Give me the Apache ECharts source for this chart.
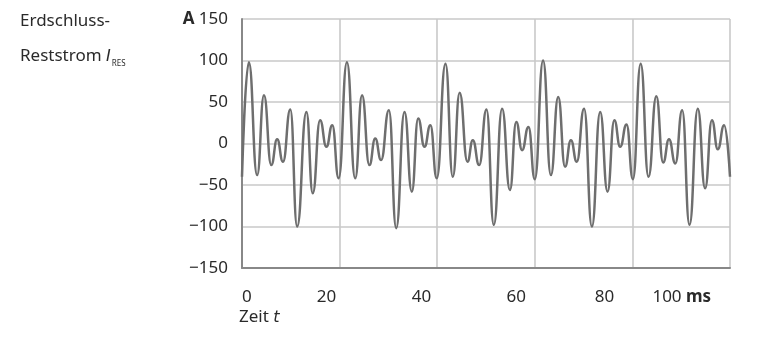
<!DOCTYPE html>
<html><head><meta charset="utf-8">
<script src="https://cdn.jsdelivr.net/npm/echarts@6/dist/echarts.min.js"></script>
<style>html,body{margin:0;padding:0;background:#fff}#c{width:757px;height:337px}</style>
</head><body><div id="c"></div>
<script>
// Zeit t in ms (extrema)
const timeMs = [
  0, 1.4, 3.1, 4.5, 6.0, 7.2, 8.4, 9.9, 11.3, 13.2, 14.5, 16.0, 17.3, 18.5,
  19.8, 21.5, 23.2, 24.6, 26.1, 27.3, 28.5, 30.1, 31.6, 33.3, 34.8, 36.1, 37.4, 38.6,
  39.9, 41.7, 43.2, 44.6, 46.2, 47.3, 48.6, 50.1, 51.6, 53.3, 54.9, 56.2, 57.4, 58.7,
  60.0, 61.7, 63.3, 64.8, 66.2, 67.4, 68.6, 70.1, 71.7, 73.4, 74.9, 76.3, 77.5, 78.8,
  80.1, 81.7, 83.3, 84.9, 86.3, 87.5, 88.8, 90.2, 91.7, 93.4, 94.9, 96.3, 97.5, 98.8, 100
];
// Erdschluss-Reststrom I_RES in A
const currentA = [
  -40, 98, -38, 58, -26, 5, -22, 41, -100, 38, -60, 28, -4, 22,
  -42, 98, -42, 58, -26, 6, -20, 40, -102, 38, -58, 30, -4, 22,
  -42, 96, -40, 61, -22, 4, -26, 41, -98, 42, -56, 26, -8, 20,
  -43, 100, -38, 56, -28, 4, -22, 42, -100, 38, -58, 28, -4, 23,
  -43, 96, -40, 57, -23, 5, -24, 40, -98, 42, -54, 28, -7, 22, -40
];
const yTickValues = [-150, -100, -50, 0, 50, 100, 150];
const yTickLabels = ['\u2212150', '\u2212100', '\u221250', '0', '50', '100', '150'];
const xTickLabels = ['0', '20', '40', '60', '80', '100'];
const yUnit = 'A';
const xUnit = 'ms';

const FONT = 'Noto Sans';
const IFONT = 'DejaVu Sans';
const TXT = '#2a2a2a';
const chart = echarts.init(document.getElementById('c'), null, {renderer: 'canvas'});
const xLabelSpots = [0, 15.3, 34.8, 54.2, 72.3, 84.1];

chart.setOption({
  animation: false,
  backgroundColor: '#fff',
  textStyle: {fontFamily: FONT},
  title: [
    {
      text: 'Erdschluss-\nReststrom {i|I}{s|RES}',
      left: 20, top: 4, padding: 0,
      textStyle: {
        fontFamily: FONT, fontSize: 17, fontWeight: 'normal', color: TXT, lineHeight: 35,
        rich: {
          i: {fontFamily: IFONT, fontSize: 16, fontStyle: 'italic', color: TXT, lineHeight: 35},
          s: {fontFamily: FONT, fontSize: 8, color: TXT, padding: [14, 0, 0, 1]}
        }
      }
    },
    {
      text: 'Zeit {i|t}',
      left: 239, top: 309, padding: 0,
      textStyle: {
        fontFamily: FONT, fontSize: 17, fontWeight: 'normal', color: TXT,
        rich: {i: {fontFamily: IFONT, fontSize: 16, fontStyle: 'italic', color: TXT}}
      }
    }
  ],
  grid: {left: 242, right: 27, top: 19, bottom: 69},
  xAxis: [
    {
      type: 'value', min: 0, max: 100, interval: 20,
      axisLine: {show: true, onZero: false, lineStyle: {color: '#888', width: 2}},
      axisTick: {show: false},
      axisLabel: {show: false},
      splitLine: {show: true, lineStyle: {color: '#c9c9c9', width: 1.6}}
    },
    {
      type: 'value', min: 0, max: 100, position: 'bottom',
      axisLine: {show: false, onZero: false}, axisTick: {show: false}, splitLine: {show: false},
      axisLabel: {
        customValues: xLabelSpots,
        align: 'left', margin: 21,
        fontFamily: FONT, fontSize: 17, color: TXT,
        formatter: function (v) {
          const i = xLabelSpots.indexOf(v);
          if (i < 0) return '';
          return i === xTickLabels.length - 1 ? xTickLabels[i] + ' {u|' + xUnit + '}' : xTickLabels[i];
        },
        rich: {u: {fontFamily: FONT, fontSize: 17, fontWeight: 'bold', color: TXT}}
      }
    }
  ],
  yAxis: {
    type: 'value', min: -150, max: 150, interval: 50,
    axisLine: {show: true, onZero: false, lineStyle: {color: '#888', width: 2}},
    axisTick: {show: false},
    splitLine: {show: true, lineStyle: {color: '#c9c9c9', width: 1.6}},
    axisLabel: {
      margin: 14, fontFamily: FONT, fontSize: 17, color: TXT,
      formatter: function (v) {
        const i = yTickValues.indexOf(v);
        const lab = i >= 0 ? yTickLabels[i] : String(v);
        return v === 150 ? '{u|' + yUnit + '} ' + lab : lab;
      },
      rich: {u: {fontFamily: FONT, fontSize: 17, fontWeight: 'bold', color: TXT}}
    }
  },
  series: [{
    type: 'line',
    xAxisIndex: 0,
    data: timeMs.map((t, i) => [t, currentA[i]]),
    showSymbol: false,
    smooth: 0.5,
    smoothMonotone: 'x',
    lineStyle: {color: '#6e6e6e', width: 2.5},
    z: 3
  }]
});
</script>
</body></html>
